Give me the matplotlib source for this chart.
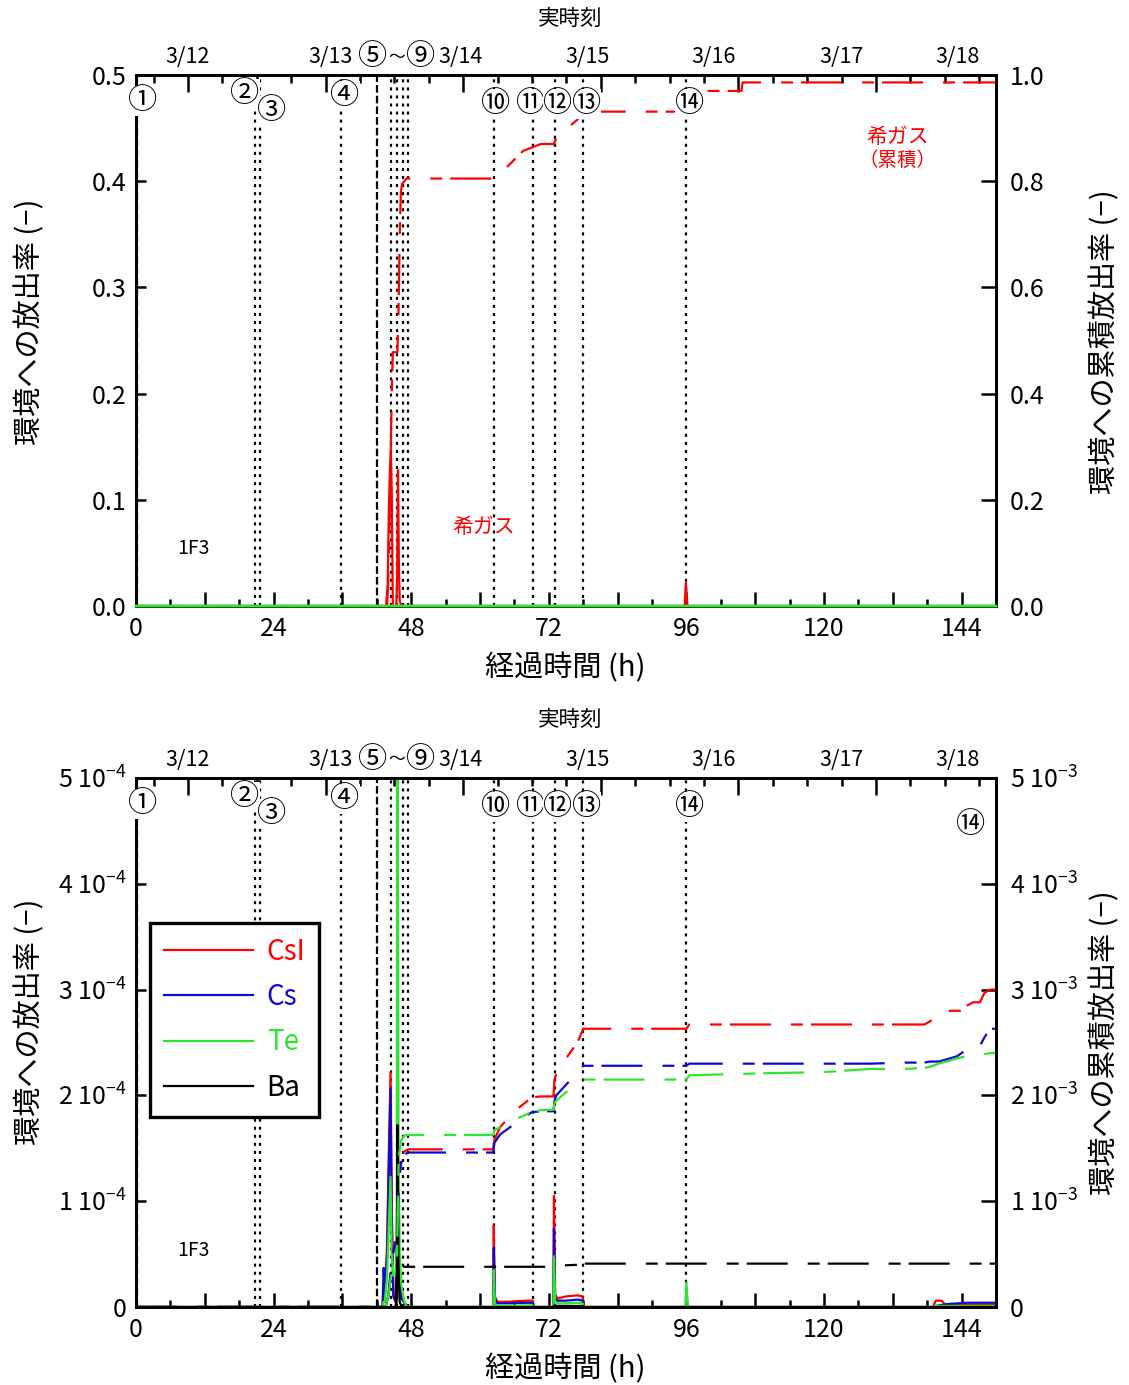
import numpy as np
import matplotlib
matplotlib.use('Agg')
import matplotlib.pyplot as plt
import matplotlib.transforms as mtransforms
from matplotlib.ticker import FixedLocator, NullFormatter

plt.rcParams['font.family'] = ['Noto Sans CJK JP', 'DejaVu Sans']
plt.rcParams['mathtext.fontset'] = 'custom'
plt.rcParams['mathtext.rm'] = 'Noto Sans CJK JP'
plt.rcParams['mathtext.it'] = 'Noto Sans CJK JP'
plt.rcParams['mathtext.default'] = 'rm'
plt.rcParams['lines.scale_dashes'] = False

# ---------------- data ----------------
# event times (h) and labels
event_t = [0.15, 20.7, 21.6, 35.7, 42.1, 44.5, 45.5, 46.5, 47.4, 62.4, 69.2, 73.0, 77.9, 95.9]
event_dashed = [True, False, False, False, True, False, False, False, False, False, False, False, False, False]
mark_labels = ['①', '②', '③', '④', '⑩', '⑪', '⑫', '⑬', '⑭']
mark_x = [1.2, 19.0, 23.7, 36.4, 62.8, 68.9, 73.6, 78.5, 96.6]
mark_off = [26, 19, 36, 21, 29, 29, 29, 29, 29]   # px below top spine
range_labels = ['⑤', '～', '⑨']
range_x = [41.2, 45.4, 49.6]

date_labels = ['3/12', '3/13', '3/14', '3/15', '3/16', '3/17', '3/18']
date_x = [9.07, 34.0, 56.6, 78.7, 100.8, 123.1, 143.3]
day_ticks = [9.07, 33.07, 57.07, 81.07, 105.07, 129.07]

# top panel: noble gas
t_ng = [0, 43.6, 43.9, 44.1, 44.3, 44.45, 44.6, 44.8, 45.4, 45.55, 45.7, 45.85, 46.0, 46.3, 95.7, 95.9, 96.2, 150]
ng_rate = [0, 0, 0.02, 0.09, 0.13, 0.145, 0.11, 0.0, 0, 0.03, 0.128, 0.04, 0.005, 0, 0, 0.022, 0, 0]
t_ng_cum = [0, 43.8, 44.0, 44.3, 44.6, 44.8, 45.6, 45.8, 46.0, 46.2, 46.4, 47.2, 62.4, 65.0, 67.5,
            70.6, 72.9, 73.2, 75.0, 76.9, 77.9, 96.3, 96.6, 105.6, 105.8, 150]
ng_cum = [0, 0, 0.05, 0.2, 0.4, 0.478, 0.478, 0.56, 0.7, 0.78, 0.795, 0.805, 0.805, 0.83, 0.857,
          0.870, 0.870, 0.879, 0.898, 0.915, 0.931, 0.931, 0.970, 0.970, 0.986, 0.986]

# bottom panel: release rates (units of 1e-4)
t_rate = [0, 43.0, 43.2, 43.4, 43.8, 44.1, 44.4, 44.6, 44.9, 45.3, 45.5, 45.6, 45.8, 46.0, 46.3,
          46.8, 47.3, 62.3, 62.4, 62.6, 63.0, 65.0, 68.0, 69.2, 69.4, 72.8, 72.9, 73.1, 73.5, 75.0,
          77.0, 77.9, 78.1, 95.8, 96.0, 96.3, 139.0, 139.5, 140.5, 141.0, 142.0, 145.0, 150.0]
csi_rate = [0, 0, 0.2, 0.1, 0.6, 1.5, 2.22, 1.0, 0.1, 0.05, 0.5, 1.5, 0.6, 0.2, 0.1,
            0.05, 0, 0, 0.77, 0.1, 0.05, 0.05, 0.06, 0.06, 0, 0, 1.05, 0.12, 0.08, 0.1,
            0.11, 0.1, 0, 0, 0.02, 0, 0, 0.06, 0.06, 0.03, 0.02, 0.02, 0.02]
cs_rate = [0, 0, 0.37, 0.1, 0.5, 1.3, 2.06, 0.8, 0.1, 0.05, 0.4, 1.4, 0.5, 0.2, 0.08,
           0.04, 0, 0, 0.56, 0.08, 0.035, 0.035, 0.04, 0.04, 0, 0, 0.74, 0.08, 0.06, 0.06,
           0.07, 0.06, 0, 0, 0.01, 0, 0, 0.01, 0.02, 0.02, 0.03, 0.04, 0.04]
te_rate = [0, 0, 0.05, 0.05, 0.3, 0.8, 1.23, 0.5, 0.3, 0.3, 1.0, 6.0, 1.5, 0.5, 0.2,
           0.05, 0, 0, 0.35, 0.03, 0.012, 0.012, 0.015, 0.015, 0, 0, 0.48, 0.05, 0.035, 0.035,
           0.04, 0.035, 0, 0, 0.23, 0, 0, 0.01, 0.01, 0.01, 0.01, 0.01, 0.01]
ba_rate = [0, 0, 0, 0, 0, 0, 0, 0, 0, 0, 0.3, 1.72, 0.3, 0.05, 0,
           0, 0, 0, 0, 0, 0, 0, 0, 0, 0, 0, 0.01, 0.01, 0.01, 0.01,
           0.01, 0.01, 0, 0, 0, 0, 0, 0, 0, 0, 0, 0, 0]

# bottom panel: cumulative release (units of 1e-3)
t_cum = [0, 43.5, 44.0, 44.5, 45.0, 45.5, 45.8, 46.2, 46.8, 47.5, 62.3, 62.5, 63.5, 66.0, 69.0,
         70.5, 72.8, 73.0, 73.3, 75.0, 77.0, 78.0, 96.0, 96.5, 110.0, 120.0, 128.0, 134.0,
         137.5, 138.5, 140.0, 142.0, 143.2, 144.0, 145.0, 146.0, 147.2, 148.0, 149.0, 150.0]
csi_cum = [0, 0, 0.1, 0.4, 0.6, 0.7, 1.2, 1.4, 1.47, 1.49, 1.49, 1.58, 1.70, 1.85, 1.98,
           1.99, 1.99, 2.15, 2.20, 2.35, 2.50, 2.63, 2.63, 2.67, 2.67, 2.67, 2.67, 2.67,
           2.67, 2.70, 2.77, 2.80, 2.80, 2.80, 2.85, 2.88, 2.88, 2.97, 3.0, 3.0]
cs_cum = [0, 0, 0.1, 0.35, 0.55, 0.65, 1.1, 1.35, 1.44, 1.46, 1.46, 1.55, 1.63, 1.73, 1.84,
          1.85, 1.85, 1.95, 2.0, 2.1, 2.22, 2.28, 2.28, 2.30, 2.30, 2.30, 2.30, 2.31,
          2.31, 2.32, 2.32, 2.35, 2.37, 2.40, 2.44, 2.47, 2.47, 2.55, 2.63, 2.63]
te_cum = [0, 0, 0.1, 0.3, 0.3, 0.35, 1.4, 1.57, 1.62, 1.626, 1.626, 1.67, 1.70, 1.77, 1.84,
          1.86, 1.865, 1.93, 1.95, 2.03, 2.10, 2.15, 2.15, 2.19, 2.21, 2.22, 2.25, 2.25,
          2.26, 2.27, 2.30, 2.33, 2.35, 2.36, 2.37, 2.37, 2.38, 2.39, 2.40, 2.40]
t_ba_cum = [0, 45.4, 45.6, 45.8, 46.2, 72.5, 73.2, 77.5, 78.0, 150]
ba_cum = [0, 0, 0.2, 0.36, 0.38, 0.38, 0.39, 0.40, 0.41, 0.41]

species = ['CsI', 'Cs', 'Te', 'Ba']
colors = ['#ff0000', '#0a0ad2', '#2ee62e', '#000000']

# ---------------- style helpers ----------------
DASH = (0, (29.5, 14.4, 8.6, 5.8))
FS_TICK = 18
FS_LAB = 21
FS_MARK = 21

fig = plt.figure(figsize=(11.29, 13.85), dpi=100)
W, H = 1129, 1385


def make_axes(top_px, bot_px):
    return fig.add_axes([136 / W, (H - bot_px) / H, 860 / W, (bot_px - top_px) / H])


def style_panel(ax, ax2, h_px, yl_ticks, yl_labels, yr_ticks, yr_labels, ylim_l, ylim_r,
                ylab_l_y, ylab_r_y):
    ax.set_xlim(0, 150)
    ax.set_ylim(*ylim_l)
    ax2.set_ylim(*ylim_r)
    for a in (ax, ax2):
        for s in a.spines.values():
            s.set_linewidth(2.0)
    # bottom x ticks
    ax.xaxis.set_major_locator(FixedLocator(list(range(0, 151, 12))))
    ax.set_xticklabels([str(v) if v % 24 == 0 else '' for v in range(0, 151, 12)])
    ax.xaxis.set_minor_locator(FixedLocator(list(range(6, 151, 12))))
    ax.tick_params(axis='x', which='major', direction='in', length=10, width=1.8,
                   labelsize=FS_TICK, pad=7, top=False)
    ax.tick_params(axis='x', which='minor', direction='in', length=5, width=1.8, top=False)
    # left y ticks
    ax.set_yticks(yl_ticks)
    ax.set_yticklabels(yl_labels)
    ax.tick_params(axis='y', direction='in', length=7, width=1.8, labelsize=FS_TICK, pad=7,
                   right=False)
    # right y ticks
    ax2.set_yticks(yr_ticks)
    ax2.set_yticklabels(yr_labels)
    ax2.tick_params(axis='y', direction='in', length=11, width=1.8, labelsize=FS_TICK, pad=10)
    # top axis: real-time ticks
    sec = ax.secondary_xaxis('top')
    sec.set_xticks(day_ticks)
    sec.xaxis.set_minor_locator(FixedLocator([3.07 + k * 6 for k in range(25)
                                              if 3.07 + k * 6 <= 150]))
    sec.xaxis.set_major_formatter(NullFormatter())
    sec.tick_params(axis='x', which='major', direction='in', length=12, width=1.8)
    sec.tick_params(axis='x', which='minor', direction='in', length=6, width=1.8)
    sec.spines['top'].set_linewidth(2.0)
    # axis labels
    ax.set_xlabel('経過時間 (h)', fontsize=FS_LAB)
    ax.xaxis.set_label_coords(0.499, -47 / h_px)
    ax.xaxis.label.set_va('top')
    ax.set_ylabel('環境への放出率 (−)', fontsize=FS_LAB)
    ax.yaxis.set_label_coords(-0.123, ylab_l_y)
    ax.yaxis.label.set_va('center')
    ax2.set_ylabel('環境への累積放出率 (−)', fontsize=FS_LAB)
    ax2.yaxis.set_label_coords(1.127, ylab_r_y)
    ax2.yaxis.label.set_va('center')
    # event lines
    for t, d in zip(event_t, event_dashed):
        ls = (0, (5.5, 2.2)) if d else (0, (2.2, 3.6))
        ax.axvline(t, color='black', lw=1.6, ls=ls, zorder=1)
    # date labels + marks
    bt = mtransforms.blended_transform_factory(ax2.transData, ax2.transAxes)
    for lab, x in zip(date_labels, date_x):
        ax2.text(x, 1 + 18 / h_px, lab, transform=bt, ha='center', va='center', fontsize=15.5,
                 clip_on=False)
    for lab, x in zip(range_labels, range_x):
        ax2.text(x, 1 + 18 / h_px, lab, transform=bt, ha='center', va='center',
                 fontsize=FS_MARK if lab != '～' else 12, clip_on=False)
    for lab, x, off in zip(mark_labels, mark_x, mark_off):
        ax2.text(x, 1 - off / h_px, lab, transform=bt, ha='center', va='center',
                 fontsize=FS_MARK, zorder=10,
                 bbox=dict(facecolor='white', edgecolor='none', pad=0.2))
    ax.text(10.0, 1 - (549 - (606 - h_px)) / h_px, '1F3', transform=bt, ha='center',
            va='center', fontsize=14)


# ---------------- top panel ----------------
ax1 = make_axes(75, 606)
ax1r = ax1.twinx()
ax1.plot(t_ng, ng_rate, color=colors[0], lw=1.6, zorder=3)
ax1r.plot(t_rate, np.array(te_rate) * 1e-4, color=colors[2], lw=2.0, zorder=4, clip_on=False)
ax1r.plot(t_ng_cum, ng_cum, color=colors[0], lw=1.6, ls=DASH)
style_panel(ax1, ax1r, 531,
            [0, 0.1, 0.2, 0.3, 0.4, 0.5], ['0.0', '0.1', '0.2', '0.3', '0.4', '0.5'],
            [0, 0.2, 0.4, 0.6, 0.8, 1.0], ['0.0', '0.2', '0.4', '0.6', '0.8', '1.0'],
            (0, 0.5), (0, 1.0), 0.535, 0.497)
fig.text(570 / W, 1 - 19 / H, '実時刻', ha='center', va='center', fontsize=15.5)
bt1 = mtransforms.blended_transform_factory(ax1r.transData, ax1r.transAxes)
ax1r.text(60.6, 1 - (527 - 75) / 531, '希ガス', transform=bt1, color='red', ha='center',
          va='center', fontsize=15)
ax1r.text(132.9, 1 - (137 - 75) / 531, '希ガス', transform=bt1, color='red', ha='center',
          va='center', fontsize=15)
ax1r.text(132.9, 1 - (160 - 75) / 531, '（累積）', transform=bt1, color='red', ha='center',
          va='center', fontsize=14)

# ---------------- bottom panel ----------------
ax3 = make_axes(778, 1307)
ax3r = ax3.twinx()
rates = [csi_rate, cs_rate, te_rate, ba_rate]
handles = []
for name, r, c in zip(species, rates, colors):
    h, = ax3.plot(t_rate, np.array(r) * 1e-4, color=c, lw=1.6, label=name, zorder=3)
    handles.append(h)
for t, cum, c in zip([t_cum, t_cum, t_cum, t_ba_cum], [csi_cum, cs_cum, te_cum, ba_cum], colors):
    ax3r.plot(t, np.array(cum) * 1e-3, color=c, lw=1.6, ls=DASH)
style_panel(ax3, ax3r, 529,
            [0, 1e-4, 2e-4, 3e-4, 4e-4, 5e-4],
            ['0'] + ['%d 10$^{-4}$' % k for k in range(1, 6)],
            [0, 1e-3, 2e-3, 3e-3, 4e-3, 5e-3],
            ['0'] + ['%d 10$^{-3}$' % k for k in range(1, 6)],
            (0, 5e-4), (0, 5e-3), 0.539, 0.499)
fig.text(570 / W, 1 - 720 / H, '実時刻', ha='center', va='center', fontsize=15.5)
bt3 = mtransforms.blended_transform_factory(ax3r.transData, ax3r.transAxes)
ax3r.text(145.6, 1 - 47 / 529, '⑭', transform=bt3, ha='center', va='center', fontsize=FS_MARK)
leg = ax3r.legend(handles=handles, loc='upper left', bbox_to_anchor=(0.0163, 0.726),
                  borderaxespad=0, fontsize=20, handlelength=3.2, handletextpad=0.5,
                  labelspacing=0.55, borderpad=0.5, fancybox=False, framealpha=1,
                  edgecolor='black', labelcolor='linecolor')
leg.get_frame().set_linewidth(2.4)
for line in leg.get_lines():
    line.set_linewidth(1.6)

fig.savefig('out.png', dpi=100)
